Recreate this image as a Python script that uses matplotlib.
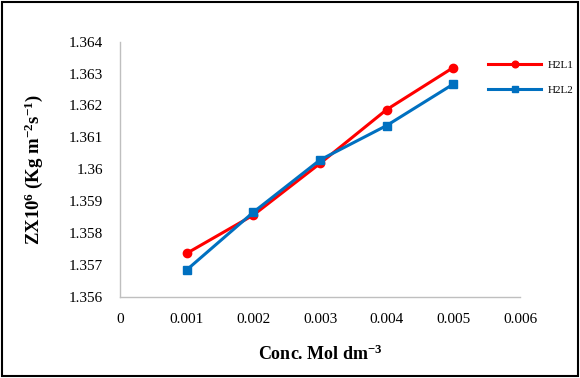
import matplotlib.pyplot as plt
from matplotlib.patches import Rectangle

plt.rcParams['font.family'] = ['Liberation Serif', 'DejaVu Serif']
plt.rcParams['mathtext.fontset'] = 'custom'
plt.rcParams['mathtext.rm'] = 'Liberation Serif'
plt.rcParams['mathtext.bf'] = 'Liberation Serif:bold'
plt.rcParams['mathtext.default'] = 'bf'

# concentration (mol dm-3) and ZX10^6 values
conc = [0.001, 0.002, 0.003, 0.004, 0.005]
h2l1 = [1.35736, 1.35856, 1.36018, 1.36187, 1.36319]
h2l2 = [1.35684, 1.35865, 1.36029, 1.36137, 1.36267]
xticks = [0, 0.001, 0.002, 0.003, 0.004, 0.005, 0.006]
yticks = [1.356, 1.357, 1.358, 1.359, 1.36, 1.361, 1.362, 1.363, 1.364]

fig = plt.figure(figsize=(5.8, 3.78), dpi=100)
ax = fig.add_axes([120 / 580, 1 - 296.7 / 378, 400 / 580, 255 / 378])

ax.plot(conc, h2l1, color='#ff0000', lw=2.2, marker='o', ms=6, label='H2L1')
ax.plot(conc, h2l2, color='#0070c0', lw=2.2, marker='s', ms=6, label='H2L2')

ax.set_xlim(0, 0.006)
ax.set_ylim(1.356, 1.364)
ax.set_xticks(xticks)
ax.set_xticklabels(['0', '0.001', '0.002', '0.003', '0.004', '0.005', '0.006'])
ax.set_yticks(yticks)
ax.set_yticklabels(['1.356', '1.357', '1.358', '1.359', '1.36', '1.361', '1.362', '1.363', '1.364'])
ax.tick_params(length=0, labelsize=11, pad=12)
ax.tick_params(axis='x', pad=12)
for s in ['top', 'right']:
    ax.spines[s].set_visible(False)
for s in ['left', 'bottom']:
    ax.spines[s].set_color('#bfbfbf')
    ax.spines[s].set_linewidth(1)

ax.set_xlabel('Conc. Mol dm$^{-3}$', fontsize=13, fontweight='bold', labelpad=13)
ax.set_ylabel('ZX10$^{6}$ (Kg m$^{-2}$s$^{-1}$)', fontsize=13.5,
              fontweight='bold', labelpad=17)

fig.legend(*ax.get_legend_handles_labels(), loc='upper left',
           bbox_to_anchor=(478 / 580, 1 - 50 / 378), frameon=False, fontsize=8,
           handlelength=4.8, handletextpad=0.6, labelspacing=1.4, markerscale=0.8)

fig.patches.append(Rectangle((0.004, 0.004), 0.992, 0.992, transform=fig.transFigure,
                             fill=False, edgecolor='black', lw=1.5))

fig.savefig('out.png')
